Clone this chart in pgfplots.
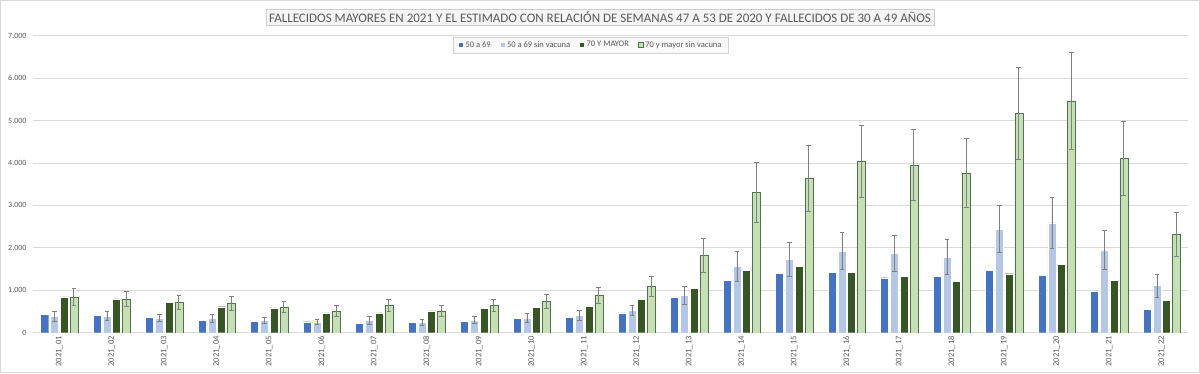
\documentclass[border=0pt]{standalone}
\usepackage{pgfplots}
\pgfplotsset{compat=1.18}
\usepackage{pgfplotstable}
\usepackage{fontspec}
\setmainfont{Carlito}
\definecolor{cb}{HTML}{4472C4}
\definecolor{clb}{HTML}{B4C7E7}
\definecolor{cdg}{HTML}{375623}
\definecolor{clg}{HTML}{C5E0B4}
\definecolor{gridc}{HTML}{D9D9D9}
\definecolor{txt}{HTML}{595959}
\pgfplotstableread{
x b lb lbe dg lg lge
0 439 392 118 847 847 204
1 408 392 110 800 792 176
2 361 353 90 713 713 165
3 298 337 90 612 690 161
4 274 298 75 588 604 126
5 259 259 66 470 510 133
6 220 298 94 470 651 138
7 243 251 71 517 517 122
8 274 298 86 580 643 137
9 337 345 106 596 745 168
10 365 412 110 616 879 197
11 467 530 126 781 1092 242
12 828 880 207 1044 1826 397
13 1234 1564 365 1470 3301 708
14 1395 1732 395 1556 3646 774
15 1422 1925 436 1422 4038 848
16 1296 1878 424 1328 3952 837
17 1328 1783 408 1210 3763 809
18 1477 2443 558 1390 5169 1084
19 1359 2592 597 1603 5460 1147
20 982 1948 455 1241 4116 872
21 550 1108 267 762 2310 515
}\data
\begin{document}
\begin{tikzpicture}[x=1pt,y=1pt]
\useasboundingbox (0,0) rectangle (1200,373);
\draw[gridc] (0.5,0.5) rectangle (1199.5,372.5);
\begin{axis}[
  at={(33pt,40.3pt)}, anchor=south west,
  scale only axis, width=1155pt, height=297pt,
  ybar=1.7pt, bar width=8pt,
  xmin=-0.5, xmax=21.5, ymin=0, ymax=7000,
  xtick=data,
  xticklabels={2021\_01,2021\_02,2021\_03,2021\_04,2021\_05,2021\_06,2021\_07,2021\_08,2021\_09,2021\_10,2021\_11,2021\_12,2021\_13,2021\_14,2021\_15,2021\_16,2021\_17,2021\_18,2021\_19,2021\_20,2021\_21,2021\_22},
  xticklabel style={rotate=90, anchor=east, font=\fontsize{8.5}{9}\selectfont, text=txt, yshift=0pt},
  ytick={0,1000,...,7000},
  yticklabel style={font=\fontsize{8}{9}\selectfont, text=txt, xshift=-3pt},
  /pgf/number format/.cd, 1000 sep={.}, assume math mode=true, /pgfplots/.cd,
  ymajorgrids, xmajorgrids=false, grid style={draw=gridc, line width=0.8pt},
  axis line style={draw=none},
  axis x line*=bottom, axis y line*=left,
  x axis line style={draw=gridc, line width=0.8pt},
  major tick length=0pt, tick style={draw=none},
  legend columns=4,
  legend style={at={(0.483,0.969)}, anchor=center, fill=gray!5, draw=gray!35,
    font=\fontsize{8.5}{9}\selectfont, text=txt, inner xsep=5pt, inner ysep=2.5pt,
    /tikz/every even column/.append style={column sep=7pt}},
  legend image code/.code={\fill[#1] (0pt,-2.4pt) rectangle (5pt,2.6pt);},
]
\addplot[fill=cb, draw=white, line width=0.4pt] table[x=x,y=b]{\data};
\addplot[fill=clb, draw=white, line width=0.4pt,
  error bars/.cd, y dir=both, y explicit,
  error bar style={color=gray, line width=0.7pt},
  error mark options={rotate=90, mark size=2.3pt, line width=0.7pt, color=gray}]
  table[x=x,y=lb,y error=lbe]{\data};
\addplot[fill=cdg, draw=white, line width=0.4pt] table[x=x,y=dg]{\data};
\addplot[fill=clg, draw=clg!80!green!50!black, line width=0.4pt,
  error bars/.cd, y dir=both, y explicit,
  error bar style={color=gray, line width=0.7pt},
  error mark options={rotate=90, mark size=2.3pt, line width=0.7pt, color=gray}]
  table[x=x,y=lg,y error=lge]{\data};
\legend{50 a 69, 50 a 69 sin vacuna, 70 Y MAYOR, 70 y mayor sin vacuna}
\end{axis}
\node[fill=gray!8, draw=gray!40, text=txt, font=\fontsize{13}{15}\selectfont,
  inner xsep=3pt, inner ysep=2.5pt] at (600,355.5)
  {FALLECIDOS MAYORES EN 2021 Y EL ESTIMADO CON RELACIÓN DE SEMANAS 47 A 53 DE 2020 Y FALLECIDOS DE 30 A 49 AÑOS};
\end{tikzpicture}
\end{document}
